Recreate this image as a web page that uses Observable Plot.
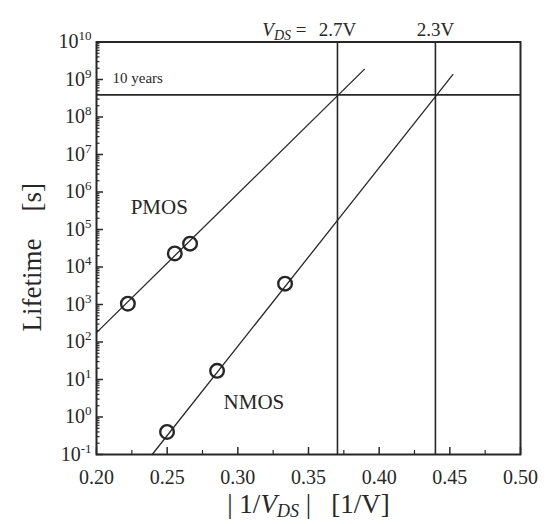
<!DOCTYPE html>
<html>
<head>
<meta charset="utf-8">
<script src="https://cdn.jsdelivr.net/npm/d3@7"></script>
<script src="https://cdn.jsdelivr.net/npm/@observablehq/plot@0.6"></script>
<style>
  body { margin: 0; background: #fff; }
  #chart svg { display: block; }
</style>
</head>
<body>
<div id="chart"></div>
<script>
// Hot-carrier lifetime vs |1/VDS|

// measured devices
const pmosX = [0.2222, 0.2554, 0.2662];
const pmosLife = [1.05e3, 2.3e4, 4.2e4];
const nmosX = [0.2499, 0.2853, 0.3334];
const nmosLife = [0.4, 17, 3.6e3];

// extrapolated fits (end points)
const pmosFitX = [0.20, 0.3895];
const pmosFitLife = [1.78e2, 1.86e9];
const nmosFitX = [0.2394, 0.4521];
const nmosFitLife = [0.1, 1.35e9];

// allowed drain voltages and the 10-year criterion
const limitX = [0.3705, 0.4398];
const limitLabels = ["2.7V", "2.3V"];
const tenYears = 3.9e8;

// axis ticks
const yExponents = [-1, 0, 1, 2, 3, 4, 5, 6, 7, 8, 9, 10];
const xTicks = [0.20, 0.25, 0.30, 0.35, 0.40, 0.45, 0.50];
const xMinorTicks = [0.225, 0.275, 0.325, 0.375, 0.425, 0.475];

// device labels
const deviceLabels = ["PMOS", "NMOS"];
const deviceLabelX = [0.2444, 0.3114];
const deviceLabelY = [3.9e5, 2.4];

const pmos = pmosX.map((x, i) => ({x, y: pmosLife[i]}));
const nmos = nmosX.map((x, i) => ({x, y: nmosLife[i]}));
const pmosFit = pmosFitX.map((x, i) => ({x, y: pmosFitLife[i]}));
const nmosFit = nmosFitX.map((x, i) => ({x, y: nmosFitLife[i]}));
const yMajor = yExponents.map(e => 10 ** e);
const yMinor = [];
for (const e of yExponents.slice(0, -1)) for (let m = 2; m < 10; m++) yMinor.push(m * 10 ** e);

const W = 548, H = 524;
const mL = 96, mR = 28, mT = 41.5, mB = 70;
const frameW = W - mL - mR, frameH = H - mT - mB;
const ink = "#272727";
const serif = "'Liberation Serif', 'DejaVu Serif', serif";

const X_TITLE = "|1/VDS| [1/V]";
const VDS_LABEL = "VDS =";

const chart = Plot.plot({
  width: W, height: H,
  marginLeft: mL, marginRight: mR, marginTop: mT, marginBottom: mB,
  style: {background: "#fff", fontFamily: serif, color: ink, overflow: "visible"},
  x: {domain: [0.2, 0.5], axis: null},
  y: {type: "log", domain: [0.1, 1e10], axis: null},
  marks: [
    // inward ticks
    Plot.tickY(yMajor, {y: d => d, insetRight: frameW - 7, stroke: ink, strokeWidth: 1.5}),
    Plot.tickY(yMinor, {y: d => d, insetRight: frameW - 3.5, stroke: ink, strokeWidth: 1.2}),
    Plot.tickX(xTicks, {x: d => d, insetTop: frameH - 7, stroke: ink, strokeWidth: 1.5}),
    Plot.tickX(xMinorTicks, {x: d => d, insetTop: frameH - 4, stroke: ink, strokeWidth: 1.2}),

    // reference lines
    Plot.ruleX(limitX, {x: d => d, stroke: ink, strokeWidth: 1.6}),
    Plot.ruleY([tenYears], {y: d => d, stroke: ink, strokeWidth: 1.8}),

    // fits and measurements
    Plot.line(pmosFit, {x: "x", y: "y", stroke: ink, strokeWidth: 1.3}),
    Plot.line(nmosFit, {x: "x", y: "y", stroke: ink, strokeWidth: 1.3}),
    Plot.dot(pmos, {x: "x", y: "y", r: 6.8, stroke: ink, strokeWidth: 2.4, fill: "none"}),
    Plot.dot(nmos, {x: "x", y: "y", r: 6.8, stroke: ink, strokeWidth: 2.4, fill: "none"}),

    Plot.frame({stroke: ink, strokeWidth: 2}),

    // tick labels
    Plot.text(yExponents, {
      y: e => 10 ** e, frameAnchor: "left", dx: -5, textAnchor: "end",
      text: e => "10^" + e, fontSize: 20, fill: ink
    }),
    Plot.text(xTicks, {
      x: d => d, frameAnchor: "bottom", dy: 23, lineAnchor: "middle",
      text: d => d.toFixed(2), fontSize: 20, fill: ink
    }),

    // annotations
    Plot.text(["10 years"], {
      y: () => tenYears, frameAnchor: "left", dx: 16, dy: -17, textAnchor: "start",
      text: d => d, fontSize: 15, fill: ink
    }),
    Plot.text(limitX, {
      x: d => d, frameAnchor: "top", dy: -20, text: (d, i) => limitLabels[i],
      fontSize: 19, fill: ink
    }),
    Plot.text([limitX[0]], {
      x: d => d, frameAnchor: "top", dy: -20, dx: -31, textAnchor: "end",
      text: () => VDS_LABEL, fontSize: 19, fill: ink
    }),
    Plot.text(deviceLabels, {
      x: (d, i) => deviceLabelX[i], y: (d, i) => deviceLabelY[i],
      text: d => d, fontSize: 21, fill: ink
    }),

    // axis titles
    Plot.text(["Lifetime\u00a0\u00a0\u00a0\u00a0[s]"], {
      frameAnchor: "left", dx: -64, dy: 9, rotate: -90, textAnchor: "middle",
      text: d => d, fontSize: 27, fill: ink
    }),
    Plot.text([X_TITLE], {
      frameAnchor: "bottom", dy: 58, lineAnchor: "bottom", textAnchor: "middle",
      text: d => d, fontSize: 27, fill: ink
    })
  ]
});

document.getElementById("chart").appendChild(chart);

// rich text: superscripts, italics and subscripts
function richText(node, parts) {
  const t = d3.select(node);
  t.text(null);
  let shift = 0;
  for (const p of parts) {
    const ts = t.append("tspan").text(p.t);
    if (p.italic) ts.attr("font-style", "italic");
    if (p.size) ts.attr("font-size", p.size);
    const target = p.shift || 0;
    if (target !== shift) { ts.attr("dy", target - shift); shift = target; }
  }
}

d3.select(chart).selectAll("text").each(function () {
  const s = this.textContent;
  if (/^10\^/.test(s)) {
    const [base, exp] = s.split("^");
    richText(this, [{t: base}, {t: exp, size: 13, shift: -8}]);
  } else if (s === VDS_LABEL) {
    richText(this, [
      {t: "V", italic: true},
      {t: "DS", italic: true, size: 14, shift: 5},
      {t: "\u00a0=", shift: 0}
    ]);
  } else if (s === X_TITLE) {
    richText(this, [
      {t: "|\u00a01/"},
      {t: "V", italic: true},
      {t: "DS", italic: true, size: 18, shift: 4},
      {t: "\u00a0|\u00a0\u00a0\u00a0[1/V]", shift: 0}
    ]);
  }
});
</script>
</body>
</html>
